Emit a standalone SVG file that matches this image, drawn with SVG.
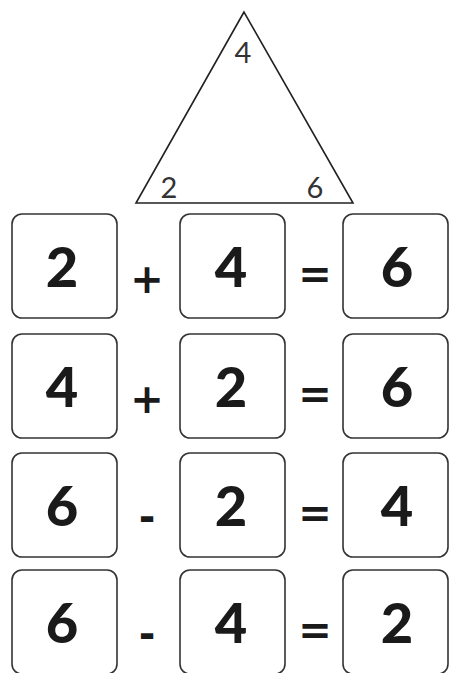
<svg xmlns="http://www.w3.org/2000/svg" width="449" height="673" viewBox="0 0 449 673">
<style>
.box{fill:#fff;stroke:#333;stroke-width:1.6}
.d{font-family:Lato,"Open Sans",sans-serif;font-weight:900;font-size:56px;fill:#1a1a1a;text-anchor:middle}
.op{font-family:"DejaVu Sans",sans-serif;font-weight:bold;font-size:40px;fill:#1a1a1a;text-anchor:middle}
.t{font-family:Lato,"Open Sans",sans-serif;font-size:29px;fill:#333;text-anchor:middle}
</style>
<rect width="449" height="673" fill="#fff"/>
<g id="triangle">
<polygon points="244,12 136,203 353,203" fill="none" stroke="#222" stroke-width="1.6"/>
<text class="t" x="243" y="63">4</text>
<text class="t" x="169" y="198">2</text>
<text class="t" x="315" y="198">6</text>
</g>
<g id="row1">
<rect class="box" x="12" y="214" width="105" height="104" rx="10"/>
<rect class="box" x="180" y="214" width="105" height="104" rx="10"/>
<rect class="box" x="343" y="214" width="105" height="104" rx="10"/>
<text class="d" x="62" y="287">2</text>
<text class="op" x="147" y="293">+</text>
<text class="d" x="231" y="287">4</text>
<text class="op" x="315" y="288">=</text>
<text class="d" x="397" y="287">6</text>
</g>
<g id="row2">
<rect class="box" x="12" y="334" width="105" height="104" rx="10"/>
<rect class="box" x="180" y="334" width="105" height="104" rx="10"/>
<rect class="box" x="343" y="334" width="105" height="104" rx="10"/>
<text class="d" x="62" y="407">4</text>
<text class="op" x="147" y="413">+</text>
<text class="d" x="231" y="407">2</text>
<text class="op" x="315" y="408">=</text>
<text class="d" x="397" y="407">6</text>
</g>
<g id="row3">
<rect class="box" x="12" y="453" width="105" height="104" rx="10"/>
<rect class="box" x="180" y="453" width="105" height="104" rx="10"/>
<rect class="box" x="343" y="453" width="105" height="104" rx="10"/>
<text class="d" x="62" y="526">6</text>
<text class="op" x="147" y="531">-</text>
<text class="d" x="231" y="526">2</text>
<text class="op" x="315" y="527">=</text>
<text class="d" x="397" y="526">4</text>
</g>
<g id="row4">
<rect class="box" x="12" y="570" width="105" height="104" rx="10"/>
<rect class="box" x="180" y="570" width="105" height="104" rx="10"/>
<rect class="box" x="343" y="570" width="105" height="104" rx="10"/>
<text class="d" x="62" y="643">6</text>
<text class="op" x="147" y="648">-</text>
<text class="d" x="231" y="643">4</text>
<text class="op" x="315" y="644">=</text>
<text class="d" x="397" y="643">2</text>
</g>
</svg>
